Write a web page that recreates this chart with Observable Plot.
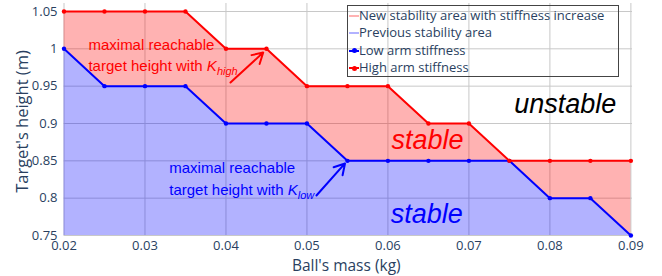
<!DOCTYPE html>
<html>
<head>
<meta charset="utf-8">
<script src="https://cdn.jsdelivr.net/npm/d3@7"></script>
<script src="https://cdn.jsdelivr.net/npm/@observablehq/plot@0.6"></script>
<style>
  html, body { margin: 0; padding: 0; background: #fff; }
  #wrap { position: relative; width: 662px; height: 276px; }
  #legend { position: absolute; left: 347px; top: 5px; width: 272px; height: 72px;
    border: 1px solid #444; font-family: "Open Sans", sans-serif; font-size: 13px; color: #2a3f5f;
    box-sizing: border-box; padding-top: 1px; }
  .row { height: 17.3px; line-height: 17.3px; display: flex; align-items: center; white-space: nowrap; }
  .sym { position: relative; width: 10px; height: 17px; margin-left: 1px; margin-right: 0px; }
  .sym .ln { position: absolute; left: 0; right: 0; top: 8px; height: 2px; }
  .sym .dt { position: absolute; left: 3px; top: 6.5px; width: 5px; height: 5px; border-radius: 50%; }
</style>
</head>
<body>
<div id="wrap"></div>
<script>
// ---- data ----
const mass = [0.02, 0.025, 0.03, 0.035, 0.04, 0.045, 0.05, 0.055, 0.06, 0.065, 0.07, 0.075, 0.08, 0.085, 0.09];
const highStiffness = [1.05, 1.05, 1.05, 1.05, 1.0, 1.0, 0.95, 0.95, 0.95, 0.9, 0.9, 0.85, 0.85, 0.85, 0.85];
const lowStiffness  = [1.0, 0.95, 0.95, 0.95, 0.9, 0.9, 0.9, 0.85, 0.85, 0.85, 0.85, 0.85, 0.8, 0.8, 0.75];
const xTicks = [0.02, 0.03, 0.04, 0.05, 0.06, 0.07, 0.08, 0.09];
const yTicks = [0.75, 0.8, 0.85, 0.9, 0.95, 1.0, 1.05];
const legendLabels = ["New stability area with stiffness increase", "Previous stability area", "Low arm stiffness", "High arm stiffness"];

// annotations (data coordinates)
const redNote  = {lines: ["maximal reachable", "target height with K_high"], x: 0.02302, y: [0.9990, 0.9705]};
const blueNote = {lines: ["maximal reachable", "target height with K_low"],  x: 0.0330,  y: [0.8343, 0.8036]};
const redArrow  = {x1: 0.04056, y1: 0.9549, x2: 0.04460, y2: 0.9950};
const blueArrow = {x1: 0.05117, y1: 0.8036, x2: 0.05470, y2: 0.8465};
const regionLabels = [
  {text: "unstable", x: 0.0819, y: 0.9147, color: "#000"},
  {text: "stable",   x: 0.0649, y: 0.8665, color: "#ff0000"},
  {text: "stable",   x: 0.0648, y: 0.7674, color: "#0000ff"}
];

const rows = mass.map((m, i) => ({m, high: highStiffness[i], low: lowStiffness[i]}));
const fmt = d => String(+d.toFixed(3));
const noteRows = n => n.lines.map((t, i) => ({t, x: n.x, y: n.y[i]}));

const chart = Plot.plot({
  width: 662, height: 276,
  marginLeft: 63.5, marginRight: 30, marginTop: 3, marginBottom: 41,
  style: {fontFamily: "'Open Sans', sans-serif", fontSize: "13px", color: "#2a3f5f", background: "#fff"},
  x: {domain: [0.02, 0.0902]},
  y: {domain: [0.75, 1.0607]},
  marks: [
    Plot.gridX(xTicks, {stroke: "#c8c8c8", strokeOpacity: 1}),
    Plot.gridY(yTicks, {stroke: "#c8c8c8", strokeOpacity: 1}),
    Plot.areaY(rows, {x: "m", y1: 0.75, y2: "low", fill: "#0000ff", fillOpacity: 0.3}),
    Plot.areaY(rows, {x: "m", y1: "low", y2: "high", fill: "#ff0000", fillOpacity: 0.3}),
    Plot.line(rows, {x: "m", y: "low", stroke: "#0000ff", strokeWidth: 2}),
    Plot.dot(rows, {x: "m", y: "low", fill: "#0000ff", r: 2.2}),
    Plot.line(rows, {x: "m", y: "high", stroke: "#ff0000", strokeWidth: 2}),
    Plot.dot(rows, {x: "m", y: "high", fill: "#ff0000", r: 2.2}),
    Plot.axisX(xTicks, {tickSize: 0, tickPadding: 5, tickFormat: fmt, fill: "#2a3f5f", fontSize: 13}),
    Plot.axisY(yTicks, {tickSize: 0, tickPadding: 6.5, tickFormat: fmt, fill: "#2a3f5f", fontSize: 13, label: null}),
    Plot.text(["Ball's mass (kg)"], {frameAnchor: "bottom", textAnchor: "middle", dy: 35, dx: -2, lineAnchor: "bottom", fontSize: 15.5, fill: "#2a3f5f"}),
    Plot.text(["Target's height (m)"], {frameAnchor: "left", textAnchor: "middle", lineAnchor: "middle", rotate: -90, dx: -41, dy: 2, fontSize: 16.5, fill: "#2a3f5f"}),
    Plot.text(regionLabels, {x: "x", y: "y", text: "text", fill: "color", fontSize: 27, fontStyle: "italic",
      fontFamily: "'Liberation Sans', Arial, sans-serif", lineAnchor: "bottom", textAnchor: "middle"}),
    Plot.text(noteRows(redNote), {x: "x", y: "y", text: "t", fill: "#ff0000", fontSize: 15,
      fontFamily: "'Liberation Sans', Arial, sans-serif", lineAnchor: "bottom", textAnchor: "start"}),
    Plot.text(noteRows(blueNote), {x: "x", y: "y", text: "t", fill: "#0000ff", fontSize: 15,
      fontFamily: "'Liberation Sans', Arial, sans-serif", lineAnchor: "bottom", textAnchor: "start"}),
    Plot.arrow([redArrow], {x1: "x1", y1: "y1", x2: "x2", y2: "y2", stroke: "#ff0000", strokeWidth: 2, headLength: 9}),
    Plot.arrow([blueArrow], {x1: "x1", y1: "y1", x2: "x2", y2: "y2", stroke: "#0000ff", strokeWidth: 2, headLength: 9})
  ]
});

// subscripts for K_high / K_low
d3.select(chart).selectAll("text").each(function() {
  const s = this.textContent;
  if (this.childElementCount === 0 && s.includes("K_")) {
    const [pre, sub] = s.split("K_");
    const sel = d3.select(this);
    sel.text(null);
    sel.append("tspan").text(pre);
    sel.append("tspan").attr("font-style", "italic").text("K");
    sel.append("tspan").attr("font-style", "italic").attr("font-size", "11px").attr("dy", "4").text(sub);
  }
});

const wrap = document.getElementById("wrap");
wrap.appendChild(chart);

// legend overlay
const legend = document.createElement("div");
legend.id = "legend";
const syms = [
  {ln: "rgba(255,0,0,0.3)", dt: null},
  {ln: "rgba(0,0,255,0.3)", dt: null},
  {ln: "#0000ff", dt: "#0000ff"},
  {ln: "#ff0000", dt: "#ff0000"}
];
legendLabels.forEach((lab, i) => {
  const row = document.createElement("div");
  row.className = "row";
  const sym = document.createElement("span");
  sym.className = "sym";
  const ln = document.createElement("span");
  ln.className = "ln"; ln.style.background = syms[i].ln;
  sym.appendChild(ln);
  if (syms[i].dt) { const dt = document.createElement("span"); dt.className = "dt"; dt.style.background = syms[i].dt; sym.appendChild(dt); }
  row.appendChild(sym);
  const t = document.createElement("span");
  t.textContent = lab;
  row.appendChild(t);
  legend.appendChild(row);
});
wrap.appendChild(legend);
</script>
</body>
</html>
